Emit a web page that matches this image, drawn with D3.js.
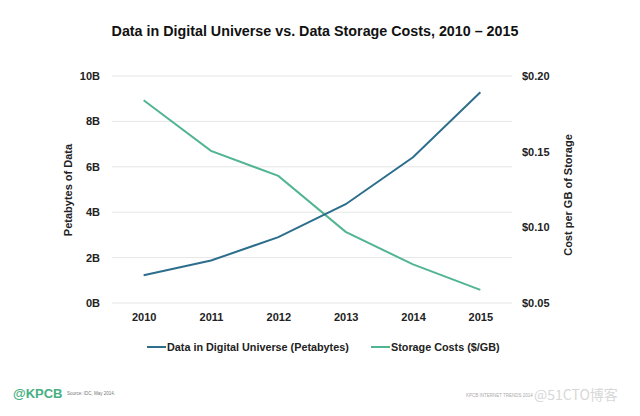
<!DOCTYPE html>
<html><head><meta charset="utf-8">
<script src="https://cdn.jsdelivr.net/npm/d3@7"></script>
<style>body{margin:0;background:#fff}svg{display:block}text{font-family:"Liberation Sans",Arial,sans-serif}</style>
</head><body><svg id="c" width="640" height="416"></svg>
<script>
const years = ["2010","2011","2012","2013","2014","2015"];
const dataPB = [1.22, 1.87, 2.9, 4.35, 6.42, 9.28];      // billions of petabytes
const costGB = [0.184, 0.1505, 0.134, 0.097, 0.0755, 0.0587]; // $/GB
const leftTicks = [0, 2, 4, 6, 8, 10];
const rightTicks = [0.05, 0.10, 0.15, 0.20];

const svg = d3.select("#c");
const L = 112, R = 512, T = 76, B = 303;
const blue = "#2c6e8c", green = "#52b592";

const x = d3.scalePoint().domain(years).range([L, R]).padding(0.47);
const yL = d3.scaleLinear().domain([0, 10]).range([B, T]);
const yR = d3.scaleLinear().domain([0.05, 0.20]).range([B, T]);

svg.append("text").attr("x", 315).attr("y", 36).attr("text-anchor", "middle")
  .attr("font-size", 14.3).attr("font-weight", "bold").attr("fill", "#111")
  .text("Data in Digital Universe vs. Data Storage Costs, 2010 – 2015");

// grid
svg.append("g").selectAll("line").data(leftTicks).join("line")
  .attr("x1", L).attr("x2", R).attr("y1", d => yL(d)).attr("y2", d => yL(d))
  .attr("stroke", "#e6e6e6").attr("stroke-width", 1);

const gl = svg.append("g").attr("transform", `translate(${L},0)`)
  .call(d3.axisLeft(yL).tickValues(leftTicks).tickFormat(d => d + "B").tickSize(0).tickPadding(12));
const gr = svg.append("g").attr("transform", `translate(${R},0)`)
  .call(d3.axisRight(yR).tickValues(rightTicks).tickFormat(d => "$" + d.toFixed(2)).tickSize(0).tickPadding(10));
const gx = svg.append("g").attr("transform", `translate(0,${B})`)
  .call(d3.axisBottom(x).tickSize(0).tickPadding(10));
[gl, gr, gx].forEach(g => {
  g.select(".domain").remove();
  g.selectAll("text").attr("font-size", 11).attr("font-weight", "bold").attr("fill", "#222")
    .style("font-family", '"Liberation Sans",Arial,sans-serif');
});

svg.append("text").attr("transform", "translate(72,190) rotate(-90)").attr("text-anchor", "middle")
  .attr("font-size", 11).attr("font-weight", "bold").attr("fill", "#222").text("Petabytes of Data");
svg.append("text").attr("transform", "translate(572,195) rotate(-90)").attr("text-anchor", "middle")
  .attr("font-size", 11).attr("font-weight", "bold").attr("fill", "#222").text("Cost per GB of Storage");

const lineL = d3.line().x((d, i) => x(years[i])).y(d => yL(d));
const lineR = d3.line().x((d, i) => x(years[i])).y(d => yR(d));
svg.append("path").attr("d", lineR(costGB)).attr("fill", "none").attr("stroke", green).attr("stroke-width", 2);
svg.append("path").attr("d", lineL(dataPB)).attr("fill", "none").attr("stroke", blue).attr("stroke-width", 2);

// legend
const leg = [{t: "Data in Digital Universe (Petabytes)", c: blue, x: 147}, {t: "Storage Costs ($/GB)", c: green, x: 371}];
leg.forEach(d => {
  svg.append("line").attr("x1", d.x).attr("x2", d.x + 19).attr("y1", 347).attr("y2", 347).attr("stroke", d.c).attr("stroke-width", 2);
  svg.append("text").attr("x", d.x + 20).attr("y", 351).attr("font-size", 10.8).attr("font-weight", "bold").attr("fill", "#222").text(d.t);
});

// footer
svg.append("text").attr("x", 13).attr("y", 398).attr("font-size", 13).attr("font-weight", "bold").attr("fill", "#45b07f").text("@KPCB");
svg.append("text").attr("x", 67).attr("y", 395).attr("font-size", 4.5).attr("fill", "#777").text("Source: IDC, May 2014.");
svg.append("text").attr("x", 466).attr("y", 397).attr("font-size", 4.5).attr("fill", "#aaa").text("KPCB INTERNET TRENDS 2014");
svg.append("text").attr("x", 534).attr("y", 400).attr("font-size", 14).attr("fill", "#d8d8d8")
  .style("font-family", '"Noto Sans CJK SC",sans-serif').text("@51CTO博客");
</script></body></html>
